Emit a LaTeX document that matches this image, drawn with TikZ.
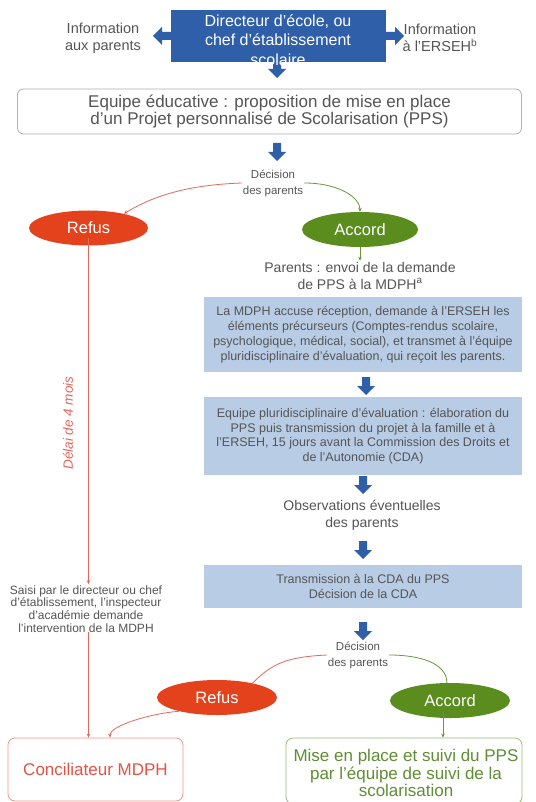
\documentclass[tikz,border=0pt]{standalone}
\usepackage{fontspec}
\setmainfont{Liberation Sans}
\usetikzlibrary{shapes.geometric,arrows.meta}
\definecolor{topblue}{RGB}{47,95,168}
\definecolor{lightblue}{RGB}{184,204,229}
\definecolor{refusred}{RGB}{228,66,28}
\definecolor{accgreen}{RGB}{90,140,30}
\definecolor{linered}{RGB}{226,104,92}
\definecolor{linegreen}{RGB}{104,150,62}
\definecolor{txtgray}{RGB}{85,85,85}
\definecolor{boxgray}{RGB}{175,175,175}
\definecolor{concred}{RGB}{226,84,72}
\definecolor{concborder}{RGB}{236,150,140}
\definecolor{misegreen}{RGB}{96,142,52}
\definecolor{miseborder}{RGB}{145,188,115}
\begin{document}
\begin{tikzpicture}[x=1pt,y=-1pt,
  txt/.style={text=txtgray, align=center, inner sep=1pt},
  lbox/.style={fill=lightblue, text=txtgray, align=center, minimum width=318pt, inner sep=0pt},
  oval/.style={ellipse, inner sep=0pt, text=white, font=\fontsize{16.5}{18}\selectfont},
  redline/.style={draw=linered, line width=0.8pt},
  greenline/.style={draw=linegreen, line width=0.8pt},
  tip/.style={-{Stealth[length=4pt,width=3.5pt]}},
  darrow/.pic={\fill[topblue] (-4,0) -- (4,0) -- (4,9) -- (9,9) -- (0,18) -- (-9,9) -- (-4,9) -- cycle;},
  larrow/.pic={\fill[topblue] (0,-4) -- (0,4) -- (-10,4) -- (-10,9) -- (-19,0) -- (-10,-9) -- (-10,-4) -- cycle;},
  rarrow/.pic={\fill[topblue] (0,-4) -- (0,4) -- (10,4) -- (10,9) -- (19,0) -- (10,-9) -- (10,-4) -- cycle;}
]
\clip (0,0) rectangle (535,802);
\fill[white] (0,0) rectangle (535,802);

% top block
\pic at (172,36) {larrow};
\pic at (385,36) {rarrow};
\pic at (277,60) {darrow};
\node[fill=topblue, minimum width=215pt, minimum height=52pt, inner sep=0pt] (dir) at (278,36) {};
\node[text=white, align=center, font=\fontsize{16}{19.5}\selectfont, inner sep=0pt] (dirtxt) at (278,40)
  {Directeur d’école, ou\\chef d’établissement\\scolaire};
\node[txt, font=\fontsize{14.5}{17}\selectfont] (infop) at (103,38) {Information\\aux parents};
\node[txt, font=\fontsize{14.5}{17}\selectfont] (infoe) at (440,38) {Information\\à l’ERSEH\textsuperscript{b}};

% equipe educative
\node[draw=boxgray, rounded corners=6pt, line width=0.8pt, minimum width=504pt, minimum height=45pt,
  text=txtgray, align=center, font=\fontsize{17}{17.5}\selectfont, inner sep=0pt] (equipe) at (269.5,111.5)
  {Equipe éducative : proposition de mise en place\\d’un Projet personnalisé de Scolarisation (PPS)};
\pic at (277,143) {darrow};

% decision 1
\node[txt, font=\fontsize{11.5}{16}\selectfont] (dec1) at (273,183) {Décision\\des parents};
\node[oval, fill=refusred, minimum width=119pt, minimum height=35pt] (refus1) at (88.5,228) {Refus};
\node[oval, fill=accgreen, minimum width=116pt, minimum height=35pt] (accord1) at (360,229.5) {Accord};
\draw[redline, tip] (dec1.west) .. controls +(-55,2) and +(30,-18) .. (refus1.22);
\draw[greenline, tip] (dec1.east) .. controls +(35,0) and +(0,-14) .. (accord1.north);

% parents
\node[txt, font=\fontsize{14}{17}\selectfont] (parents) at (360,275.5) {Parents : envoi de la demande\\de PPS à la MDPH\textsuperscript{a}};
\draw[greenline, tip, line width=0.6pt] (accord1.south) -- (parents.north);

% light blue boxes
\node[lbox, minimum height=75pt, font=\fontsize{12.5}{15}\selectfont] (mdph) at (363,334.5)
  {La MDPH accuse réception, demande à l’ERSEH les\\éléments précurseurs (Comptes-rendus scolaire,\\psychologique, médical, social), et transmet à l’équipe\\pluridisciplinaire d’évaluation, qui reçoit les parents.};
\pic at (366,377) {darrow};
\node[lbox, minimum height=78pt, font=\fontsize{12.5}{14.5}\selectfont] (pluri) at (363,436)
  {Equipe pluridisciplinaire d’évaluation : élaboration du\\PPS puis transmission du projet à la famille et à\\l’ERSEH, 15 jours avant la Commission des Droits et\\de l’Autonomie (CDA)};
\pic at (363,476) {darrow};
\node[txt, font=\fontsize{14}{17}\selectfont] (obs) at (362,515.5) {Observations éventuelles\\des parents};
\pic at (363,541) {darrow};
\node[lbox, minimum height=43pt, font=\fontsize{12.5}{15}\selectfont] (cda) at (363,586.5)
  {Transmission à la CDA du PPS\\Décision de la CDA};
\pic at (363,622) {darrow};

% decision 2
\node[txt, font=\fontsize{11.5}{16}\selectfont] (dec2) at (358,655) {Décision\\des parents};
\node[oval, fill=refusred, minimum width=120pt, minimum height=35pt] (refus2) at (217,697.5) {Refus};
\node[oval, fill=accgreen, minimum width=120pt, minimum height=35pt] (accord2) at (450,700.5) {Accord};
\draw[redline] (dec2.west) .. controls +(-40,2) and +(20,-20) .. (refus2.22);
\draw[greenline] (dec2.east) .. controls +(30,0) and +(0,-20) .. (accord2.100);

% left column
\node[txt, font=\fontsize{12}{12.8}\selectfont] (saisi) at (86,609)
  {Saisi par le directeur ou chef\\d’établissement, l’inspecteur\\d’académie demande\\l’intervention de la MDPH};
\node[text=linered, font=\fontsize{13.5}{15}\itshape, rotate=90, inner sep=0pt] (delai) at (68,423) {Délai de 4 mois};
\node[draw=concborder, rounded corners=7pt, line width=0.8pt, minimum width=175pt, minimum height=63pt,
  text=concred, font=\fontsize{17}{19}\selectfont, inner sep=0pt] (concil) at (95.5,769.5) {Conciliateur MDPH};
\draw[redline, tip] ([yshift=8pt]refus1.south) -- (refus1.south |- saisi.north);
\draw[redline, tip] ([yshift=2pt]refus1.south |- saisi.south) -- (refus1.south |- concil.north);
\draw[redline, tip] (refus2.200) .. controls +(-28,2) and +(0,-12) .. (concil.north east -| 110,0);

% mise en place
\node[draw=miseborder, rounded corners=7pt, line width=0.8pt, minimum width=236pt, minimum height=66pt,
  inner sep=0pt] (mise) at (404,771) {};
\node[text=misegreen, align=center, font=\fontsize{17}{17.5}\selectfont, inner sep=0pt] (misetxt) at (406,773)
  {Mise en place et suivi du PPS\\par l’équipe de suivi de la\\scolarisation};
\draw[greenline, tip, line width=0.6pt] ([xshift=-7pt,yshift=5pt]accord2.south) -- ([xshift=-7pt]accord2.south |- mise.north);
\end{tikzpicture}
\end{document}
